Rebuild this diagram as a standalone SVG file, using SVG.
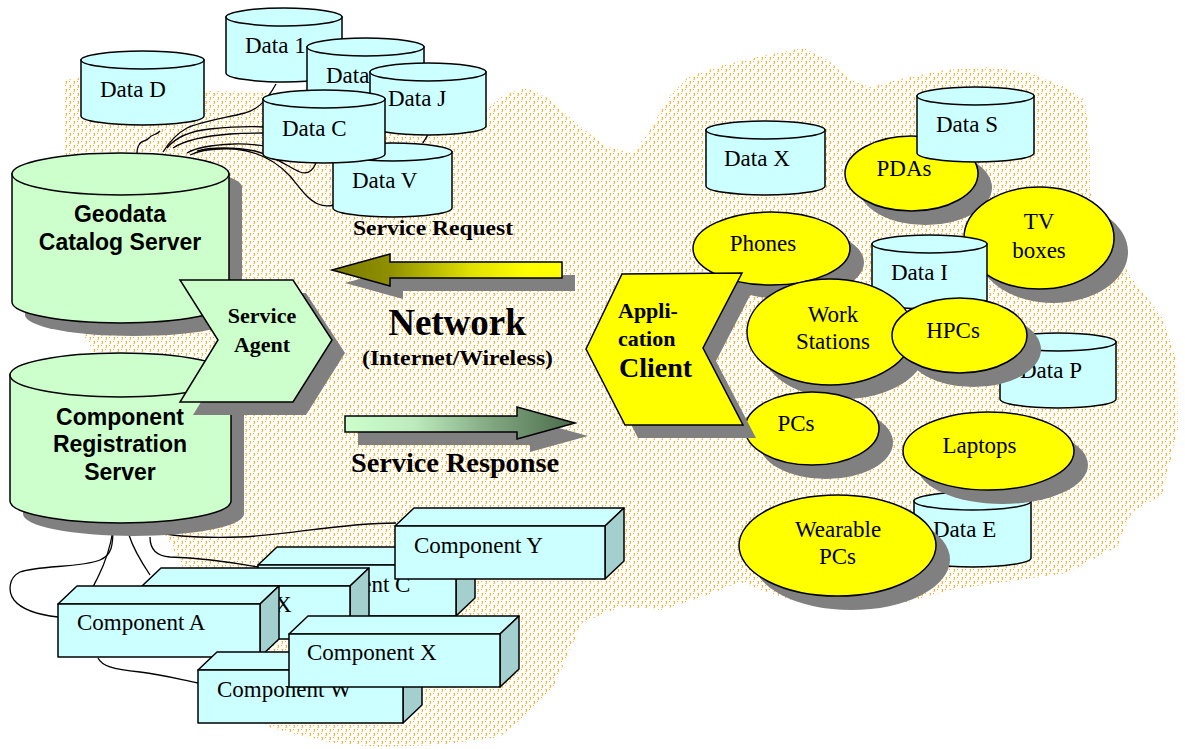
<svg xmlns="http://www.w3.org/2000/svg" width="1185" height="749" viewBox="0 0 1185 749">
  <defs>
    <pattern id="haze" width="8" height="8" patternUnits="userSpaceOnUse">
      <rect x="1" y="1" width="1" height="1" fill="#ffdc96"/>
      <rect x="2" y="1" width="1" height="2" fill="#ffb030"/>
      <rect x="1" y="3" width="1" height="1" fill="#ffdc96"/>
      <rect x="2" y="3" width="1" height="1" fill="#ffc050"/>
      <rect x="5" y="1" width="1" height="1" fill="#ffa820"/>
      <rect x="5" y="5" width="1" height="1" fill="#ffdc96"/>
      <rect x="6" y="5" width="1" height="2" fill="#ffb030"/>
      <rect x="5" y="7" width="1" height="1" fill="#ffdc96"/>
      <rect x="6" y="7" width="1" height="1" fill="#ffc050"/>
      <rect x="1" y="5" width="1" height="1" fill="#ffa820"/>
    </pattern>
    <linearGradient id="gReq" gradientUnits="userSpaceOnUse" x1="332" y1="0" x2="562" y2="0">
      <stop offset="0" stop-color="#7a7a00"/>
      <stop offset="0.25" stop-color="#8f8f00"/>
      <stop offset="0.6" stop-color="#e0e000"/>
      <stop offset="0.85" stop-color="#ffff00"/>
    </linearGradient>
    <linearGradient id="gResp" gradientUnits="userSpaceOnUse" x1="345" y1="0" x2="575" y2="0">
      <stop offset="0" stop-color="#ccffcc"/>
      <stop offset="0.3" stop-color="#bdebbd"/>
      <stop offset="0.65" stop-color="#7fa57f"/>
      <stop offset="1" stop-color="#4a6a4a"/>
    </linearGradient>
  </defs>
  <style>
    .data { fill: #ccffff; stroke: #000; stroke-width: 1.5; }
    .srv { fill: #ccffcc; stroke: #000; stroke-width: 1.5; }
    .shadow { fill: #808080; stroke: none; }
    .dev { fill: #ffff00; stroke: #000; stroke-width: 1.5; }
    .front { fill: #ccffff; stroke: #000; stroke-width: 1.5; stroke-linejoin: round; }
    .side { fill: #a3cfcf; stroke: #000; stroke-width: 1.5; stroke-linejoin: round; }
    .wire { fill: none; stroke: #000; stroke-width: 1.3; }
    .t { font-family: "Liberation Serif", "Times New Roman", serif; font-size: 23px; fill: #000; }
    .tb { font-family: "Liberation Serif", "Times New Roman", serif; font-weight: bold; fill: #000; }
    .sans { font-family: "Liberation Sans", Arial, sans-serif; font-weight: bold; font-size: 23px; fill: #000; text-anchor: middle; }
    .mid { text-anchor: middle; }
  </style>

  <rect width="1185" height="749" fill="#ffffff"/>

  <!-- dotted network cloud -->
  <path id="cloud" fill="url(#haze)" d="M65,80 L90,76 L150,82 L210,91 L270,92 L330,96 L420,100 L486,110 L505,94 L526,88 L548,98 L575,122 L605,146 L631,153 L648,134 L668,98 L688,77 L720,66 L762,56 L803,48 L828,60 L850,80 L870,87 L905,78 L945,70 L989,67 L1030,73 L1062,86 L1085,100 L1090,150 L1090,192 L1105,235 L1133,280 L1163,318 L1177,363 L1178,430 L1162,495 L1132,512 L1117,547 L1067,573 L1033,578 L950,590 L900,604 L850,604 L792,600 L767,592 L740,582 L713,593 L663,610 L620,607 L582,623 L562,668 L553,690 L522,718 L500,737 L440,745 L380,747 L333,743 L271,728 L240,705 L225,660 L200,600 L167,537 L140,520 L100,470 L93,350 L80,330 L68,260 L63,150 Z"/>

  <!-- wiring between servers, data stores and components -->
  <g id="connectors">
    <path class="wire" d="M160,131 C157,135 152,134 149,138 C146,142 141,140 139,145 C137,148 137,151 137,154"/>
    <path class="wire" d="M163,152 C168,144 176,134 187,128 C200,122 225,118 245,113 C255,110 265,104 276,84"/>
    <path class="wire" d="M167,148 C175,138 190,131 210,129 C230,127 248,126 265,127"/>
    <path class="wire" d="M173,148 C185,140 205,136 230,134 C245,133 255,133 265,133"/>
    <path class="wire" d="M187,153 C195,148 210,145 233,144 C245,143 255,145 265,146"/>
    <path class="wire" d="M190,155 C200,150 215,148 235,149 C255,151 275,160 290,176 C300,188 308,200 318,204 C325,207 330,206 334,205"/>
    <path class="wire" d="M197,151 C210,147 235,147 255,151 C275,156 290,168 300,172 C308,175 313,170 316,163"/>
    <path class="wire" d="M423,143 C424,140 427,138 428,134"/>
    <path class="wire" d="M113,528 C113,545 112,555 100,560 C80,568 40,565 20,572 C8,578 8,592 14,600 C22,610 40,615 58,617"/>
    <path class="wire" d="M113,530 C110,550 104,565 98,577 C95,583 93,586 92,590"/>
    <path class="wire" d="M129,535 C133,548 140,560 150,575"/>
    <path class="wire" d="M150,537 C150,548 155,556 170,557 C200,558 230,562 258,567"/>
    <path class="wire" d="M156,532 C175,537 200,538 240,537 C290,535 340,523 396,523"/>
    <path class="wire" d="M98,658 C102,666 112,669 140,672 C165,675 182,680 198,683"/>
    <path class="wire" d="M233,657 C236,663 245,663 260,662 C270,661 280,660 289,660"/>
  </g>

  <!-- data stores, left cluster -->
  <g id="data-d">
    <path class="data" d="M81,60 L81,116 A61.5,9 0 0 0 204,116 L204,60 Z"/>
    <ellipse class="data" cx="142.5" cy="60" rx="61.5" ry="9"/>
    <text class="t" x="100" y="97">Data D</text>
  </g>
  <g id="data-1">
    <path class="data" d="M226,17 L226,73 A58,9 0 0 0 342,73 L342,17 Z"/>
    <ellipse class="data" cx="284" cy="17" rx="58" ry="9"/>
    <text class="t" x="245" y="53">Data 1</text>
  </g>
  <g id="data-2">
    <path class="data" d="M307,47 L307,104 A58.5,9 0 0 0 424,104 L424,47 Z"/>
    <ellipse class="data" cx="365.5" cy="47" rx="58.5" ry="9"/>
    <text class="t" x="326" y="83">Data</text>
  </g>
  <g id="data-j">
    <path class="data" d="M370,72 L370,126 A58,9 0 0 0 486,126 L486,72 Z"/>
    <ellipse class="data" cx="428" cy="72" rx="58" ry="9"/>
    <text class="t" x="388" y="106">Data J</text>
  </g>
  <g id="data-v">
    <path class="data" d="M333,152 L333,208 A59.5,9 0 0 0 452,208 L452,152 Z"/>
    <ellipse class="data" cx="392.5" cy="152" rx="59.5" ry="9"/>
    <text class="t" x="352" y="188">Data V</text>
  </g>
  <g id="data-c">
    <path class="data" d="M263,99 L263,154 A61,9 0 0 0 385,154 L385,99 Z"/>
    <ellipse class="data" cx="324" cy="99" rx="61" ry="9"/>
    <text class="t" x="282" y="136">Data C</text>
  </g>

  <!-- servers -->
  <g id="geodata-server">
    <path class="shadow" d="M25,187 L25,315 A108.5,21 0 0 0 242,315 L242,187 A108.5,21 0 0 0 25,187 Z"/>
    <path class="srv" d="M12,174 L12,302 A108.5,21 0 0 0 229,302 L229,174 Z"/>
    <ellipse class="srv" cx="120.5" cy="174" rx="108.5" ry="21"/>
    <text class="sans" x="120" y="222">Geodata</text>
    <text class="sans" x="120" y="250">Catalog Server</text>
  </g>
  <g id="registration-server">
    <path class="shadow" d="M23,388 L23,514 A110.5,22 0 0 0 244,514 L244,388 A110.5,22 0 0 0 23,388 Z"/>
    <path class="srv" d="M10,375 L10,501 A110.5,22 0 0 0 231,501 L231,375 Z"/>
    <ellipse class="srv" cx="120.5" cy="375" rx="110.5" ry="22"/>
    <text class="sans" x="120" y="425">Component</text>
    <text class="sans" x="120" y="452">Registration</text>
    <text class="sans" x="120" y="480">Server</text>
  </g>
  <g id="service-agent">
    <polygon class="shadow" points="193,293 306,293 345,353 306,415 193,415 231,353"/>
    <polygon class="srv" points="180,280 293,280 332,340 293,402 180,402 218,340"/>
    <text class="tb mid" x="262" y="323" font-size="22">Service</text>
    <text class="tb mid" x="262" y="352" font-size="22">Agent</text>
  </g>

  <!-- network arrows and labels -->
  <g id="service-request">
    <polygon class="shadow" points="345,283 403,267 403,275 575,275 575,291 403,291 403,299"/>
    <polygon fill="url(#gReq)" stroke="#000" stroke-width="1.5" points="332,270 390,254 390,262 562,262 562,278 390,278 390,286"/>
    <text class="tb" x="353" y="235" font-size="22" textLength="160" lengthAdjust="spacingAndGlyphs">Service Request</text>
  </g>
  <g id="network">
    <text class="tb mid" x="457" y="335" font-size="37">Network</text>
    <text class="tb" x="362" y="365" font-size="20" textLength="191" lengthAdjust="spacingAndGlyphs">(Internet/Wireless)</text>
  </g>
  <g id="service-response">
    <polygon class="shadow" points="358,429 530,429 530,420 588,436 530,452 530,445 358,445"/>
    <polygon fill="url(#gResp)" stroke="#000" stroke-width="1.5" points="345,416 517,416 517,407 575,423 517,439 517,432 345,432"/>
    <text class="tb" x="351" y="472" font-size="28" textLength="208" lengthAdjust="spacingAndGlyphs">Service Response</text>
  </g>

  <!-- components -->
  <g id="component-c">
    <polygon class="front" points="258,565 277,547 475,547 456,565"/>
    <polygon class="side" points="456,565 475,547 475,598 456,616"/>
    <rect class="front" x="258" y="565" width="198" height="51"/>
    <text class="t" x="282" y="592">Component C</text>
  </g>
  <g id="component-y">
    <polygon class="front" points="395,526 414,508 624,508 605,526"/>
    <polygon class="side" points="605,526 624,508 624,561 605,579"/>
    <rect class="front" x="395" y="526" width="210" height="53"/>
    <text class="t" x="414" y="553">Component Y</text>
  </g>
  <g id="component-x-back">
    <polygon class="front" points="142,586 161,568 369,568 350,586"/>
    <polygon class="side" points="350,586 369,568 369,621 350,639"/>
    <rect class="front" x="142" y="586" width="208" height="53"/>
    <text class="t" x="162" y="612">Component X</text>
  </g>
  <g id="component-a">
    <polygon class="front" points="58,604 77,586 279,586 260,604"/>
    <polygon class="side" points="260,604 279,586 279,639 260,657"/>
    <rect class="front" x="58" y="604" width="202" height="53"/>
    <text class="t" x="77" y="630">Component A</text>
  </g>
  <g id="component-w">
    <polygon class="front" points="198,670 217,652 422,652 403,670"/>
    <polygon class="side" points="403,670 422,652 422,705 403,723"/>
    <rect class="front" x="198" y="670" width="205" height="53"/>
    <text class="t" x="217" y="697">Component W</text>
  </g>
  <g id="component-x">
    <polygon class="front" points="289,634 308,616 519,616 500,634"/>
    <polygon class="side" points="500,634 519,616 519,669 500,687"/>
    <rect class="front" x="289" y="634" width="211" height="53"/>
    <text class="t" x="307" y="660">Component X</text>
  </g>

  <!-- client side devices and data stores -->
  <g id="data-x">
    <path class="data" d="M706,130 L706,186 A59.5,9 0 0 0 825,186 L825,130 Z"/>
    <ellipse class="data" cx="765.5" cy="130" rx="59.5" ry="9"/>
    <text class="t" x="724" y="166">Data X</text>
  </g>
  <g id="pdas">
    <ellipse class="shadow" cx="925.5" cy="187.5" rx="66.5" ry="37.5"/>
    <ellipse class="dev" cx="911.5" cy="173.5" rx="66.5" ry="37.5"/>
    <text class="t mid" x="904" y="176">PDAs</text>
  </g>
  <g id="data-s">
    <path class="data" d="M917,96 L917,153 A58.5,9 0 0 0 1034,153 L1034,96 Z"/>
    <ellipse class="data" cx="975.5" cy="96" rx="58.5" ry="9"/>
    <text class="t" x="936" y="132">Data S</text>
  </g>
  <g id="tv-boxes">
    <ellipse class="shadow" cx="1053" cy="252" rx="75" ry="51"/>
    <ellipse class="dev" cx="1039" cy="238" rx="75" ry="51"/>
    <text class="t mid" x="1039" y="229">TV</text>
    <text class="t mid" x="1039" y="258">boxes</text>
  </g>
  <g id="data-i">
    <path class="data" d="M872,244 L872,300 A57.5,9 0 0 0 987,300 L987,244 Z"/>
    <ellipse class="data" cx="929.5" cy="244" rx="57.5" ry="9"/>
    <text class="t" x="891" y="280">Data I</text>
  </g>
  <g id="phones">
    <ellipse class="shadow" cx="785.5" cy="262.5" rx="78.5" ry="36.5"/>
    <ellipse class="dev" cx="771.5" cy="248.5" rx="78.5" ry="36.5"/>
    <text class="t mid" x="763" y="251">Phones</text>
  </g>
  <g id="work-stations">
    <ellipse class="shadow" cx="844" cy="346" rx="83" ry="53"/>
    <ellipse class="dev" cx="830" cy="332" rx="83" ry="53"/>
    <text class="t mid" x="833" y="322">Work</text>
    <text class="t mid" x="833" y="349">Stations</text>
  </g>
  <g id="data-p">
    <path class="data" d="M1000,342 L1000,399 A58,9 0 0 0 1116,399 L1116,342 Z"/>
    <ellipse class="data" cx="1058" cy="342" rx="58" ry="9"/>
    <text class="t" x="1020" y="378">Data P</text>
  </g>
  <g id="hpcs">
    <ellipse class="shadow" cx="973.5" cy="349.5" rx="67.5" ry="37.5"/>
    <ellipse class="dev" cx="959.5" cy="335.5" rx="67.5" ry="37.5"/>
    <text class="t mid" x="953" y="338">HPCs</text>
  </g>
  <g id="pcs">
    <ellipse class="shadow" cx="826" cy="442.5" rx="67" ry="36.5"/>
    <ellipse class="dev" cx="812" cy="428.5" rx="67" ry="36.5"/>
    <text class="t mid" x="796" y="431">PCs</text>
  </g>
  <g id="data-e">
    <path class="data" d="M914,501 L914,558 A58.5,9 0 0 0 1031,558 L1031,501 Z"/>
    <ellipse class="data" cx="972.5" cy="501" rx="58.5" ry="9"/>
    <text class="t" x="933" y="537">Data E</text>
  </g>
  <g id="laptops">
    <ellipse class="shadow" cx="1002.5" cy="465" rx="85.5" ry="39"/>
    <ellipse class="dev" cx="988.5" cy="451" rx="85.5" ry="39"/>
    <text class="t mid" x="979.5" y="453">Laptops</text>
  </g>
  <g id="wearable-pcs">
    <ellipse class="shadow" cx="851.5" cy="559.5" rx="98.5" ry="50.5"/>
    <ellipse class="dev" cx="837.5" cy="545.5" rx="98.5" ry="50.5"/>
    <text class="t mid" x="838" y="537">Wearable</text>
    <text class="t mid" x="837.5" y="564">PCs</text>
  </g>
  <g id="application-client">
    <polygon class="shadow" points="599,362 635,287 755,286 716,361 756,438 638,438"/>
    <polygon class="dev" points="586,349 622,274 742,273 703,348 743,425 625,425"/>
    <text class="tb" x="618" y="318" font-size="22">Appli-</text>
    <text class="tb" x="618" y="346" font-size="22">cation</text>
    <text class="tb" x="619" y="377" font-size="28">Client</text>
  </g>
</svg>
